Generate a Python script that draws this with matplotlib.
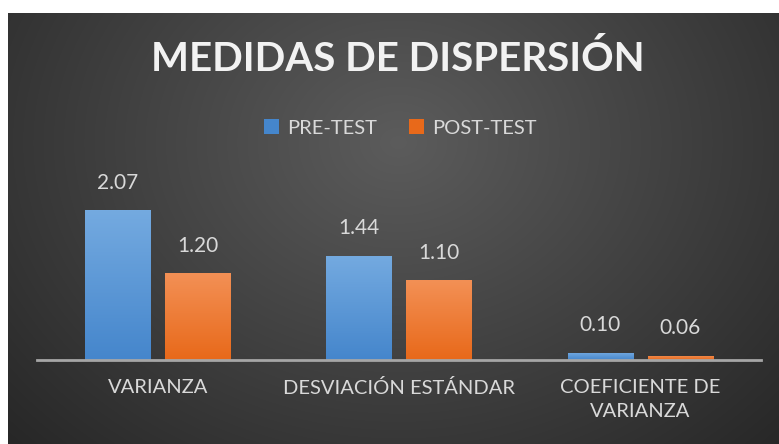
import numpy as np
import matplotlib.pyplot as plt
from matplotlib.colors import LinearSegmentedColormap

categorias = ["VARIANZA", "DESVIACIÓN ESTÁNDAR", "COEFICIENTE DE\nVARIANZA"]
pre_test = [2.07, 1.44, 0.10]
post_test = [1.20, 1.10, 0.06]
series = ["PRE-TEST", "POST-TEST"]

plt.rcParams['font.family'] = ['Lato', 'DejaVu Sans']

W, H = 779, 444
fig = plt.figure(figsize=(W / 100, H / 100), dpi=100)
fig.patch.set_facecolor("white")

# fondo oscuro con degradado radial
bg = fig.add_axes([8 / W, 0, 1 - 8 / W, 1 - 13 / H])
bg.set_axis_off()
yy, xx = np.mgrid[0:431, 0:771]
r = np.sqrt(((xx - 390) / 520.0) ** 2 + ((yy - 130) / 420.0) ** 2)
g = np.clip(0.36 - 0.20 * r, 0.15, 0.36)
bg.imshow(np.dstack([g, g, g]), aspect="auto", extent=[0, 1, 0, 1], origin="upper")
bg.set_xlim(0, 1)
bg.set_ylim(0, 1)

ax = fig.add_axes([37 / W, 1 - 360 / H, (761 - 37) / W, 210 / H])
ax.set_facecolor("none")
x = np.arange(len(categorias))
w = 0.27
gap = 0.062

colores = [("#74aae0", "#4586cc"), ("#f39055", "#e8691a")]
for i, (vals, (c_top, c_bot)) in enumerate(zip([pre_test, post_test], colores)):
    pos = x + (i - 0.5) * (w + gap)
    bs = ax.bar(pos, vals, width=w, color=c_bot, label=series[i], zorder=2)
    cmap = LinearSegmentedColormap.from_list("g%d" % i, [c_bot, c_top])
    for b, v in zip(bs, vals):
        x0 = b.get_x()
        grad = np.linspace(0, 1, 100).reshape(-1, 1)
        im = ax.imshow(grad, cmap=cmap, aspect="auto", origin="lower",
                       extent=[x0, x0 + b.get_width(), 0, v], zorder=3)
        im.set_clip_path(b)
        ax.text(b.get_x() + b.get_width() / 2, v + 0.24, "%.2f" % v,
                ha="center", va="bottom", color="#d9d9d9", fontsize=15)

ax.set_xlim(-0.5, 2.5)
ax.set_ylim(0, 2.9)
ax.set_yticks([])
ax.set_xticks(x)
ax.set_xticklabels(categorias, color="#d9d9d9", fontsize=14.5, linespacing=1.45)
ax.tick_params(axis="x", length=0, pad=14)
for s in ["top", "right", "left"]:
    ax.spines[s].set_visible(False)
ax.spines["bottom"].set_color("#a6a6a6")
ax.spines["bottom"].set_linewidth(2)
ax.spines["bottom"].set_zorder(4)

fig.text(398 / W, 1 - 59 / H, "MEDIDAS DE DISPERSIÓN", ha="center", va="center",
         color="#f2f2f2", fontsize=29, fontweight="bold")

leg = fig.legend(loc="center", bbox_to_anchor=(400 / W, 1 - 128 / H), ncol=2,
                 frameon=False, fontsize=14.5, handlelength=0.75, handleheight=0.75,
                 handletextpad=0.4, columnspacing=1.6)
for t in leg.get_texts():
    t.set_color("#d9d9d9")

fig.savefig("out.png", dpi=100, facecolor=fig.get_facecolor())
